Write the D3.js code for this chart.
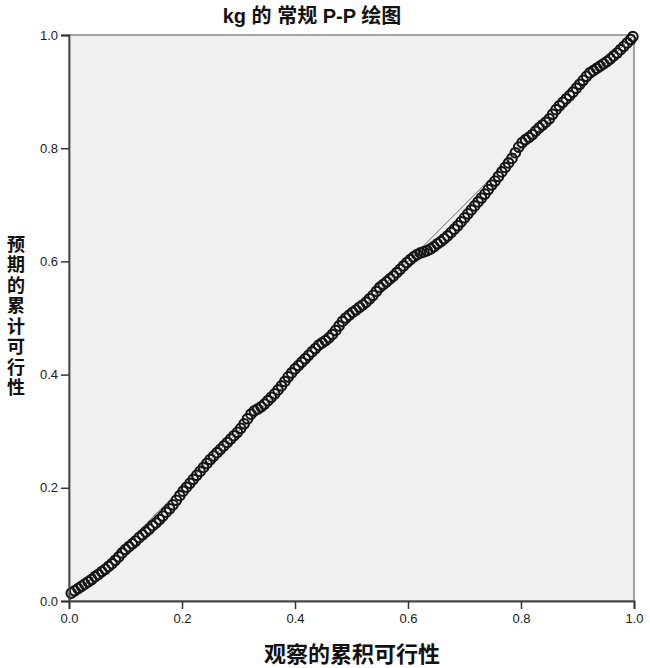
<!DOCTYPE html>
<html><head><meta charset="utf-8">
<script src="https://cdn.jsdelivr.net/npm/d3@7"></script>
<style>body{margin:0;background:#fff}</style>
</head><body>
<script>
const titleText = "kg 的 常规 P-P 绘图";
const xLabel = "观察的累积可行性";
const yLabel = "预期的累计可行性";
const tickValues = [0.0, 0.2, 0.4, 0.6, 0.8, 1.0];
const observed = [0.004,0.010,0.016,0.022,0.028,0.034,0.040,0.046,0.052,0.058,0.064,0.070,0.076,0.082,0.088,0.094,0.100,0.106,0.112,0.118,0.124,0.130,0.136,0.142,0.148,0.154,0.160,0.166,0.172,0.178,0.184,0.190,0.196,0.202,0.208,0.214,0.220,0.226,0.232,0.238,0.244,0.250,0.256,0.262,0.268,0.274,0.280,0.286,0.292,0.298,0.304,0.310,0.316,0.322,0.328,0.334,0.340,0.346,0.352,0.358,0.364,0.370,0.376,0.382,0.388,0.394,0.400,0.406,0.412,0.418,0.424,0.430,0.436,0.442,0.448,0.454,0.460,0.466,0.472,0.478,0.484,0.490,0.496,0.502,0.508,0.514,0.520,0.526,0.532,0.538,0.544,0.550,0.556,0.562,0.568,0.574,0.580,0.586,0.592,0.598,0.604,0.610,0.616,0.622,0.628,0.634,0.640,0.646,0.652,0.658,0.664,0.670,0.676,0.682,0.688,0.694,0.700,0.706,0.712,0.718,0.724,0.730,0.736,0.742,0.748,0.754,0.760,0.766,0.772,0.778,0.784,0.790,0.796,0.802,0.808,0.814,0.820,0.826,0.832,0.838,0.844,0.850,0.856,0.862,0.868,0.874,0.880,0.886,0.892,0.898,0.904,0.910,0.916,0.922,0.928,0.934,0.940,0.946,0.952,0.958,0.964,0.970,0.976,0.982,0.988,0.994,0.998];
const expected = [0.014,0.018,0.022,0.026,0.030,0.034,0.038,0.043,0.047,0.052,0.056,0.061,0.066,0.072,0.078,0.085,0.091,0.096,0.101,0.106,0.112,0.117,0.122,0.127,0.133,0.138,0.144,0.150,0.157,0.163,0.170,0.178,0.186,0.194,0.201,0.208,0.215,0.222,0.229,0.236,0.243,0.250,0.256,0.262,0.268,0.274,0.280,0.286,0.292,0.298,0.305,0.313,0.322,0.330,0.336,0.339,0.343,0.348,0.354,0.360,0.366,0.373,0.380,0.388,0.396,0.403,0.410,0.416,0.422,0.428,0.434,0.440,0.446,0.452,0.456,0.460,0.465,0.471,0.478,0.486,0.494,0.500,0.505,0.510,0.514,0.519,0.523,0.528,0.534,0.540,0.547,0.554,0.559,0.564,0.569,0.574,0.580,0.586,0.592,0.598,0.603,0.608,0.612,0.615,0.617,0.619,0.622,0.626,0.631,0.635,0.640,0.645,0.651,0.657,0.663,0.670,0.677,0.684,0.691,0.698,0.705,0.712,0.719,0.727,0.735,0.742,0.750,0.758,0.766,0.774,0.782,0.792,0.802,0.810,0.815,0.819,0.824,0.830,0.836,0.841,0.846,0.852,0.860,0.868,0.875,0.881,0.887,0.893,0.899,0.906,0.913,0.920,0.927,0.933,0.937,0.941,0.945,0.949,0.953,0.958,0.963,0.968,0.974,0.980,0.986,0.992,0.997];
const refLine = [[0,0],[1,1]];

const W = 650, H = 668;
const L = 69, R = 634, T = 35, B = 601;
const svg = d3.select("body").append("svg").attr("width", W).attr("height", H)
  .style("font-family", "'Liberation Sans', Arial, sans-serif");

const x = d3.scaleLinear().domain([0, 1]).range([L, R]);
const y = d3.scaleLinear().domain([0, 1]).range([B, T]);

svg.append("rect").attr("x", L).attr("y", T).attr("width", R - L).attr("height", B - T)
  .attr("fill", "#f0f0f0").attr("stroke", "#888").attr("stroke-width", 1.5);

// reference line
svg.append("path").datum(refLine)
  .attr("d", d3.line().x(d => x(d[0])).y(d => y(d[1])))
  .attr("stroke", "#666").attr("stroke-width", 1).attr("fill", "none");

// points
const pts = observed.map((v, i) => [v, expected[i]]);
svg.append("g").selectAll("circle").data(pts).join("circle")
  .attr("cx", d => x(d[0])).attr("cy", d => y(d[1])).attr("r", 4.8)
  .attr("fill", "none").attr("stroke", "#151515").attr("stroke-width", 2.1);

// axes
const fmt = d3.format(".1f");
const xAxis = svg.append("g").attr("transform", `translate(0,${B})`)
  .call(d3.axisBottom(x).tickValues(tickValues).tickFormat(fmt).tickSize(8).tickPadding(5));
const yAxis = svg.append("g").attr("transform", `translate(${L},0)`)
  .call(d3.axisLeft(y).tickValues(tickValues).tickFormat(fmt).tickSize(8).tickPadding(3));
[xAxis, yAxis].forEach(a => {
  a.select(".domain").attr("stroke", "#444").attr("stroke-width", 1.8);
  a.selectAll(".tick line").attr("stroke", "#333").attr("stroke-width", 1.5);
  a.selectAll("text").attr("font-size", 13).attr("fill", "#1a1a1a")
    .attr("font-family", "'Liberation Sans', Arial, sans-serif");
});

// title
svg.append("text").attr("x", 312).attr("y", 23).attr("text-anchor", "middle")
  .attr("font-size", 20).attr("font-weight", "bold").attr("fill", "#111")
  .attr("font-family", "'Liberation Sans', 'Noto Sans CJK SC', sans-serif")
  .text(titleText);

// x label
svg.append("text").attr("x", 352).attr("y", 662).attr("text-anchor", "middle")
  .attr("font-size", 22).attr("font-weight", "bold").attr("fill", "#111")
  .attr("font-family", "'Noto Sans CJK SC', sans-serif")
  .text(xLabel);

// y label (vertical, upright characters)
svg.append("text").attr("x", 16).attr("y", 235)
  .attr("writing-mode", "vertical-rl")
  .style("text-orientation", "upright")
  .attr("letter-spacing", 2.5)
  .attr("font-size", 18).attr("font-weight", "bold").attr("fill", "#111")
  .attr("font-family", "'Noto Sans CJK SC', sans-serif")
  .text(yLabel);
</script>
</body></html>
